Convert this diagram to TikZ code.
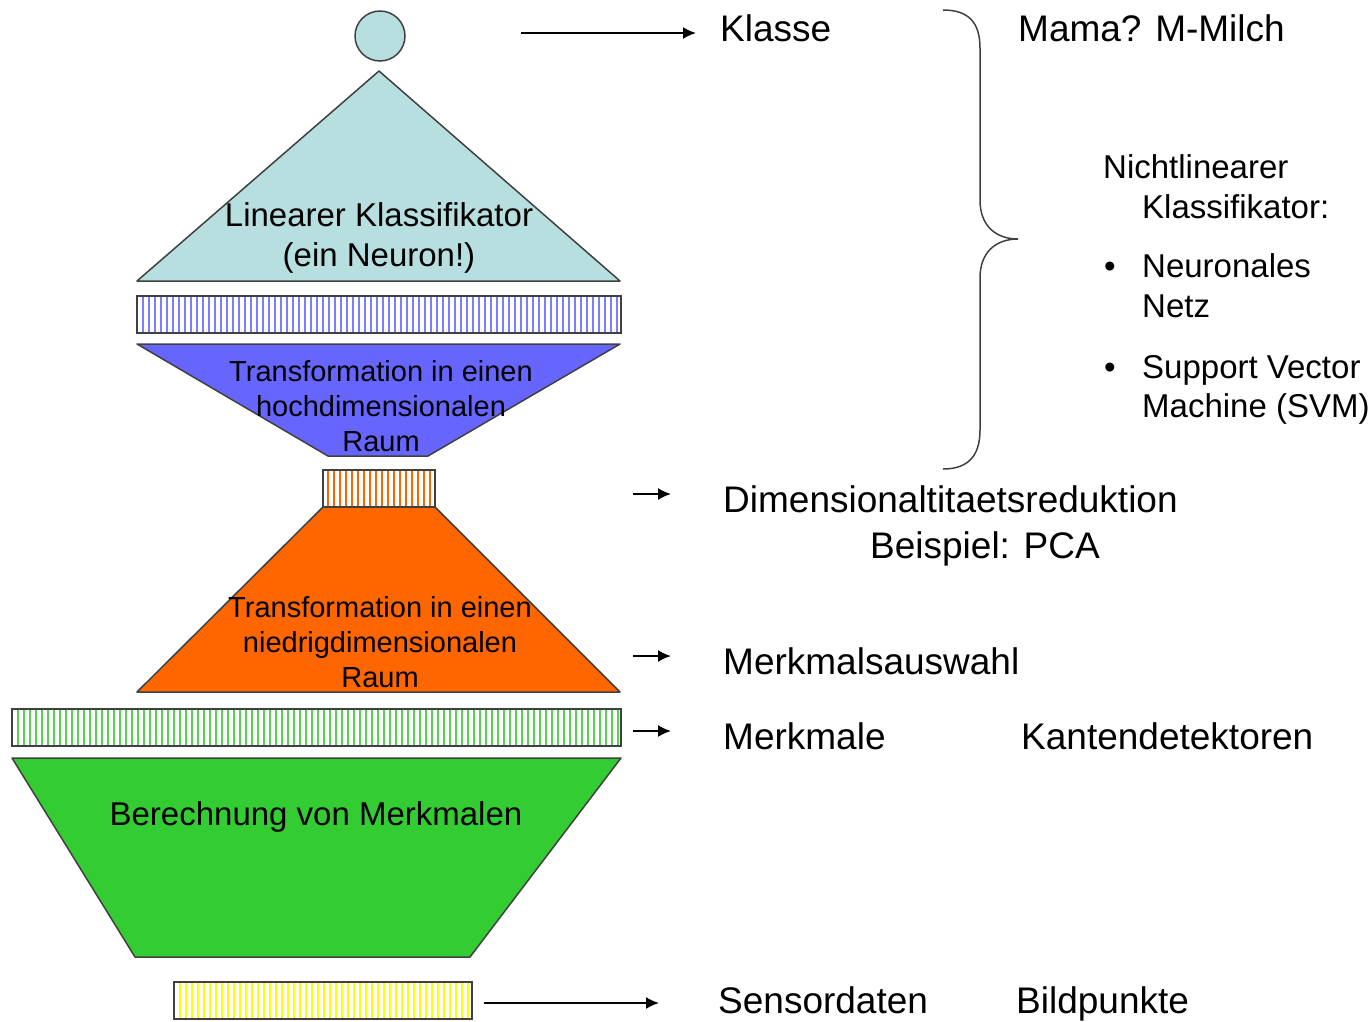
\documentclass[tikz,border=0pt]{standalone}
\usepackage{fontspec}
\setmainfont{Liberation Sans}
\usetikzlibrary{arrows.meta}
\definecolor{lcyan}{HTML}{B8DFE0}
\definecolor{myblue}{HTML}{6666FF}
\definecolor{myorange}{HTML}{FF6600}
\definecolor{mygreen}{HTML}{33CC33}
\definecolor{myyellow}{HTML}{FFFF00}
\definecolor{outl}{HTML}{404040}
\begin{document}
\begin{tikzpicture}[x=1pt,y=-1pt,
  shp/.style={draw=outl,line width=1.5pt,line join=round},
  bar/.style={draw=outl,line width=2pt},
  stripe/.style={line width=1.6pt},
  arr/.style={line width=1.8pt,-{Latex[length=13pt,width=12pt]}},
  big/.style={font=\fontsize{37}{44}\selectfont,anchor=base west,inner sep=0pt},
  mid/.style={font=\fontsize{33}{40}\selectfont,anchor=base west,inner sep=0pt},
  intext/.style={align=center,inner sep=0pt},
  brace/.style={draw=outl,line width=1.5pt}]
\useasboundingbox (0,0) rectangle (1371,1021);

% top neuron
\node[circle,draw=outl,line width=1.5pt,fill=lcyan,minimum size=50pt,inner sep=0pt] (neuron) at (380,36) {};

% linear classifier triangle
\draw[shp,fill=lcyan] (379,71) -- (620,281) -- (137,281) -- cycle;
\node[intext,font=\fontsize{33}{40}\selectfont] (lin) at (379,238) {Linearer Klassifikator\\(ein Neuron!)};

% blue striped bar
\foreach \i in {0,...,79} \draw[stripe,myblue!85] ({143+\i*6},296) -- ({143+\i*6},333);
\draw[bar] (137,296) rectangle (621,333);

% blue trapezoid
\draw[shp,fill=myblue] (137,344) -- (620,344) -- (428,456) -- (328,456) -- cycle;
\node[intext,font=\fontsize{29}{35}\selectfont] (hoch) at (381,406) {Transformation in einen\\hochdimensionalen\\Raum};

% orange trapezoid
\draw[shp,fill=myorange] (323,507) -- (435,507) -- (620,692) -- (137,692) -- cycle;
\node[intext,font=\fontsize{29}{35}\selectfont] (niedrig) at (380,642) {Transformation in einen\\niedrigdimensionalen\\Raum};

% orange striped bar
\fill[white] (323,470) rectangle (435,507);
\foreach \i in {0,...,17} \draw[stripe,myorange] ({328+\i*6},470) -- ({328+\i*6},507);
\draw[bar] (323,470) rectangle (435,507);

% green striped bar
\foreach \i in {0,...,100} \draw[stripe,mygreen!85] ({18+\i*6},709) -- ({18+\i*6},746);
\draw[bar] (12,709) rectangle (621,746);

% green trapezoid
\draw[shp,fill=mygreen] (12,758) -- (621,758) -- (470,957) -- (135,957) -- cycle;
\node[intext,font=\fontsize{33}{40}\selectfont] (berech) at (316,817) {Berechnung von Merkmalen};

% yellow striped bar
\foreach \i in {0,...,48} \draw[stripe,myyellow] ({180+\i*6},982) -- ({180+\i*6},1019);
\draw[bar] (174,982) rectangle (472,1019);

% right labels
\node[big] (klasse) at (720,41) {Klasse};
\node[big] (mama) at (1018,41) {Mama? M-Milch};
\node[big] (dim) at (723,512) {Dimensionaltitaetsreduktion};
\node[big,anchor=base] (pca) at (985,558) {Beispiel: PCA};
\node[big] (ausw) at (723,674) {Merkmalsauswahl};
\node[big] (merk) at (723,749) {Merkmale};
\node[big] (kant) at (1021,749) {Kantendetektoren};
\node[big] (sens) at (718,1013) {Sensordaten};
\node[big] (bild) at (1016,1013) {Bildpunkte};

\node[mid] (nl) at (1103,178) {Nichtlinearer};
\node[mid] (kl) at (1142,218) {Klassifikator:};
\node[mid] (b1) at (1104,277) {•};
\node[mid] (nn) at (1142,277) {Neuronales};
\node[mid] (nz) at (1142,317) {Netz};
\node[mid] (b2) at (1104,378) {•};
\node[mid] (sv) at (1142,378) {Support Vector};
\node[mid] (svm) at (1142,417) {Machine (SVM)};

% arrows
\coordinate (a1s) at (521,33);  \coordinate (a1e) at (696,33);
\coordinate (a2s) at (633,494); \coordinate (a2e) at (671,494);
\coordinate (a3s) at (633,656); \coordinate (a3e) at (671,656);
\coordinate (a4s) at (633,731); \coordinate (a4e) at (671,731);
\coordinate (a5s) at (484,1003); \coordinate (a5e) at (659,1003);
\draw[arr] (a1s) -- (a1e);
\draw[arr] (a2s) -- (a2e);
\draw[arr] (a3s) -- (a3e);
\draw[arr] (a4s) -- (a4e);
\draw[arr] (a5s) -- (a5e);

% brace
\coordinate (bt) at (943,10);
\coordinate (bm) at (1018,239);
\coordinate (bb) at (943,469);
\draw[brace] (bt) .. controls (968,10) and (980,22) .. (980,48)
  -- (980,200) .. controls (980,226) and (996,239) .. (bm)
  .. controls (996,239) and (980,252) .. (980,278)
  -- (980,430) .. controls (980,456) and (968,469) .. (bb);
\end{tikzpicture}
\end{document}
